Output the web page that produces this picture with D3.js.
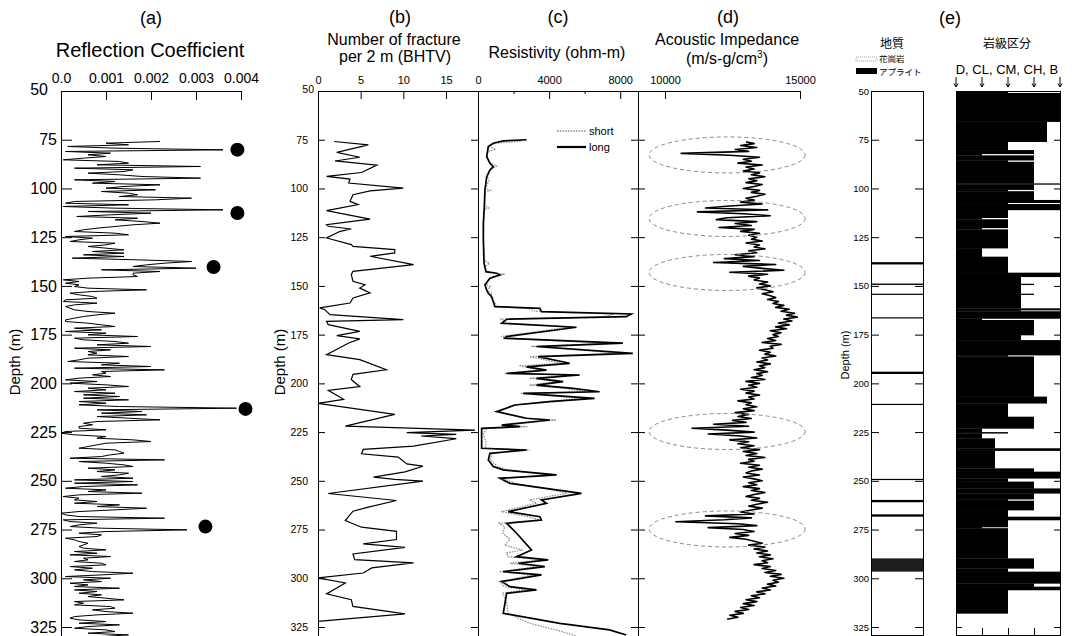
<!DOCTYPE html>
<html><head><meta charset="utf-8">
<script src="https://cdn.jsdelivr.net/npm/d3@7"></script>
<style>
body{margin:0;background:#fff}
svg{display:block}
text{font-family:"Liberation Sans",Arial,sans-serif;fill:#000}
.cjk{font-family:"Noto Sans CJK JP",sans-serif}
</style>
</head><body><svg id="c" width="1073" height="636"></svg>
<script>
// ---------------- DATA ----------------
const depthTicks = [50,75,100,125,150,175,200,225,250,275,300,325];

// (a) reflection coefficient, in units of 1e-3, sampled evenly from rcTop to rcBottom (m)
const rcTop = 75.9, rcBottom = 329.9;
const rcValues = [
2.2,1.0,1.5,0.15,1.2,3.6,0.1,1.1,0.6,1.0,
0.5,0.05,1.3,1.5,0.8,3.1,0.3,1.6,1.4,0.6,
1.3,1.8,3.1,0.3,1.2,0.7,2.2,1.4,1.0,2.1,
0.9,1.5,1.7,1.3,2.9,2.1,0.3,0.1,1.5,0.05,
1.2,3.6,0.6,2.0,1.1,0.35,1.7,1.2,1.8,2.2,
1.6,1.2,0.8,0.5,0.3,1.2,1.5,0.1,0.7,0.4,
0.2,1.2,1.0,0.6,1.0,1.4,0.7,1.4,0.5,1.4,
0.25,1.7,2.9,2.3,1.9,1.6,3.0,0.9,2.2,1.6,
1.6,1.7,0.6,0.05,0.4,0.1,0.4,0.3,0.6,1.9,
0.7,0.2,0.4,0.7,0.8,0.1,0.05,0.8,0.3,0.1,
0.2,0.3,0.6,1.2,0.8,0.5,0.3,0.1,0.1,0.6,
0.9,1.2,0.3,0.9,0.1,1.0,0.6,1.7,0.3,0.5,
1.2,1.5,0.8,2.0,0.3,1.1,0.6,0.8,0.6,1.5,
0.6,0.4,0.15,1.3,0.9,2.0,
0.3,2.3,0.9,1.0,0.7,1.1,0.4,0.1,0.8,0.2,
1.0,1.5,0.6,1.0,0.3,1.2,0.5,1.3,0.5,1.5,
0.4,1.0,0.4,1.3,3.9,0.8,1.8,0.9,1.9,0.8,
1.5,2.2,0.8,0.5,0.7,0.4,0.4,1.0,0.1,0.0,
0.3,1.0,0.8,1.6,2.0,1.0,0.8,0.6,0.4,1.2,
1.3,1.4,1.1,0.9,0.2,2.3,0.4,1.0,1.4,1.6,
0.6,1.2,0.8,1.5,1.3,0.9,1.6,0.3,1.6,0.3,
1.7,0.5,0.1,1.0,0.6,1.8,0.4,0.05,0.4,0.3,
0.8,0.3,1.3,0.8,1.9,1.2,0.4,0.0,0.1,0.4,
2.3,0.05,0.2,0.8,0.4,0.2,0.9,2.8,1.0,0.4,
0.9,0.8,0.1,0.3,0.4,0.6,0.5,0.4,0.5,1.0,
0.3,0.8,0.2,1.1,0.5,0.6,0.3,0.9,1.0,0.2,
0.7,0.3,0.7,1.6,0.9,0.1,1.1,0.5,0.9,0.2,
0.6,0.3,1.3,0.3,0.8,0.4,0.9,0.6,1.0,1.4,
0.3,0.5,0.3,1.1,1.2,0.7,1.0,1.6,0.8,0.3,
0.2,0.4,1.0,0.4,1.3,0.6,0.3,1.0,1.2,0.6,
1.5,0.9];
const rcTicks = [0,1,2,3,4];
const rcTickLabels = ["0.0","0.001","0.002","0.003","0.004"];
const rcDotDepth = [80.1,112.6,140.3,213.1,273.5];
const rcDotValue = [3.92,3.92,3.39,4.10,3.21];

// (b) number of fractures per 2 m
const fracDepth = [75.9,77.6,81.5,84,85.9,88,91.8,93.8,95.2,97.2,99.8,101.2,103.2,106.6,108.3,111.4,115.7,118.6,119.4,120.8,122,125.4,128.8,129.7,131.4,133.1,134.8,139.1,142.5,144.2,147.6,149.4,151.1,153.6,156.2,158.8,161.3,162.2,164.7,167.3,168.2,169.9,173.3,175.5,177.2,179.3,185.3,187.8,193,195.4,198,201.7,203.6,208.2,210.3,215.9,221.9,224,225.3,226.2,227,228.4,232.2,233.9,236.1,237.8,241.3,242.5,245.4,248.1,249.3,250.2,256.5,260.1,263.5,265.6,270.4,273.8,275.9,280.1,282.4,284.1,287.5,290.4,292.1,294.7,297.3,299.8,302.4,305,308,311,314.4,318.3,322.1];
const fracValue = [1.9,5.9,2.2,4.9,2.0,6.9,5.1,1.0,3.75,3.6,10,6.1,4.1,3.75,4.7,1.0,6.1,1.0,1.2,3.9,2.6,1.0,3.9,4.1,9,9,6.1,11.2,4.1,3.9,4.1,5.5,4.9,6.1,4.1,3.75,0.2,0.8,1.4,10,1.0,1.2,4.9,2.2,4.9,3.6,1.0,4.9,8,4.1,3.9,4.9,1.2,3.0,0,9,3.2,18.4,10.4,16.2,12.1,16.2,11.2,5.3,5.1,9.4,10.4,12.3,10.2,6.5,9,12.3,1.2,9.2,5.9,4.1,3.2,5.1,9.2,9.2,5.3,10.2,4.1,4.3,11.2,6.3,5.3,0,3.2,2.2,1.0,3.9,4.1,10.2,0];
const fracTicks = [0,5,10,15];

// (c) resistivity (ohm-m)
const resLongDepth = [75,75.6,76.8,78.5,83.7,87.1,88.8,90.5,94,100.8,109.4,117.9,126.5,138.4,142.7,143.5,144.4,146.1,149.5,152.1,153.8,155.5,158.1,160.6,161.5,163.2,164.4,165.8,167.1,169.2,171.2,176,176.9,179.4,181.1,184.6,186.3,189.7,191.5,193.2,194.9,195.7,197.4,199.1,200.9,202.6,204.3,205.1,207.7,209.4,211.1,214.5,217.9,218.8,221.4,222.2,223.1,233.3,234.2,235.9,239.3,242.7,244.4,247,248.7,251.3,256.4,259.8,261.5,265.8,268.4,270.1,271.8,273.5,276.9,285.5,288.9,290.6,292.3,294,296.6,298.3,301.7,304.3,306,307.7,318,323.1,326.5,329.1];
const resLongValue = [2730,1420,860,580,490,670,860,670,490,390,355,300,300,340,450,1050,1230,670,390,490,580,770,860,950,3480,3570,8620,8340,1610,1330,5540,1610,1510,8150,3290,8710,3380,5160,2730,3850,1610,5720,3290,4790,3290,5350,6840,2540,6560,4040,2080,1050,2730,4040,1330,2360,205,205,2730,670,580,860,1420,4420,1230,1800,5820,3570,3850,1700,3480,3570,1610,1800,2170,3010,2170,3950,2270,3760,1420,3570,1330,1800,3290,1610,1420,4600,7400,8340];
const resShortDepth = [75.8,76.8,78.5,80,81,84,87,88.5,90.5,94,96,100,101,102,109,110,111,118,126,137,138.5,140,143,144,145,146.5,149,150.5,152,154,155.5,158,160.5,161.5,163,164.5,166,167,169,171,176,177,179.5,181,184.5,186.3,189.7,191,193,195,195.7,197.4,199.1,200.9,202.6,204.3,205.1,207.7,209.4,211.1,214.5,217.9,218.8,221.4,222.2,223.1,226,230,233.3,234.2,235.9,239.3,242.7,244.4,247,248.7,251.3,254,256.4,259.8,261.5,265.8,268.4,270.1,271.8,273.5,276.9,280,283,285.5,287,288.9,290.6,292.3,294,296.6,298.3,301.7,304.3,306,307.7,312,318,321,323.1,326.5,329.5];
const resShortValue = [2400,900,620,1000,560,500,700,1050,700,520,620,420,700,400,380,600,360,320,310,360,650,360,500,1500,900,620,420,700,500,800,700,900,1100,2800,3200,7600,7000,1300,1600,5200,1300,1800,7400,3000,7900,2900,4700,2300,3500,1500,5200,2900,4400,2900,4900,6100,2400,5900,3800,2000,1150,2500,4400,1500,2800,500,300,450,400,2900,800,700,1100,1700,3900,1400,2100,3800,5000,2900,3300,1300,2800,3500,1200,1500,1400,1800,1500,2500,1600,1700,3600,1800,3400,1200,3100,1200,1500,2700,1400,1600,1700,2400,2900,4400,5500];
const resTicks = [0,4000,8000];
const resMinorTicks = [2000,6000];
const resLegend = ["short","long"];

// (d) acoustic impedance, sampled every metre from aiTop to aiBottom
const aiTop = 76, aiBottom = 321;
const aiValues = [
13000,13300,12800,13400,12600,13100,10600,12400,13500,12900,
13200,12700,13600,13000,13300,12900,13500,13200,13700,13100,
13400,13000,13600,13300,12900,13500,13200,13700,13400,13000,
13300,12800,13600,12400,11500,13800,11200,12900,13900,12300,
11900,13400,12600,13200,12000,13300,12800,13500,13100,13400,
13200,13600,13000,13500,13300,13700,13100,13400,12600,13300,
12200,13500,11800,14100,12900,13600,14400,12400,13800,13100,
13500,13300,13800,13500,13900,13400,13700,14000,13600,13900,
14100,13800,14200,14000,14400,14100,14600,14300,14800,14500,
14900,14400,14700,14200,14600,14100,14500,13900,14300,14000,
14200,13800,14100,13600,14300,13900,14000,13500,13900,13700,
14100,13600,13800,13400,13900,13500,13700,13300,13800,13400,
13600,13200,13700,13000,13500,13100,13400,12800,13300,13000,
13500,13100,13300,12700,13200,13000,13400,12900,13300,12600,
13100,12700,13200,12500,13000,11800,13100,11000,12300,13300,
11600,12800,13400,12400,13100,12700,13300,12800,13500,12900,
13400,13000,13700,13100,13300,12800,13500,13100,13600,13200,
13000,13500,12900,13300,13600,13100,13400,12900,13500,13200,
13700,13300,13000,13500,13200,13800,13400,13100,13600,13200,
12800,13300,11500,13200,12200,10400,12700,13400,11600,12900,
13300,12600,13100,12400,13000,13300,13600,13100,13700,13300,
13800,13400,13900,13500,14000,13600,13800,13300,13900,13600,
14100,13700,14300,13900,14400,14000,14200,13800,14100,13600,
13900,13400,13700,13200,13500,13000,13400,12900,13300,12800,
13100,12600,12900,12400,12700,12300];
const aiTicks = [10000,15000];
const aiEllipseDepth = [82.8,115.4,143.1,224.7,274.7];
const aiEllipseCenter = 12300;

// (e) geology and rock class
const geoLegend = ["花崗岩","アプライト"];
const aplTop = [137.8,148.8,154.0,166.1,194.0,210.5,249.0,259.8,267.2,289.8];
const aplBottom = [139.0,149.5,154.6,166.7,195.2,211.0,249.6,261.0,268.4,296.6];
const rockClassLabels = ["D","CL","CM","CH","B"];
const rockTop = [50,51.0,65.7,76.0,80.3,82.2,83.0,85.5,86.3,97.4,97.9,100.6,101.4,105.9,107.3,108.0,111.0,115.0,115.8,120.2,121.0,130.6,135.0,143.2,145.3,148.9,149.4,154.0,154.5,161.5,162.4,163.0,166.7,167.5,175.2,177.8,185.5,186.2,206.8,210.2,217.1,223.1,225.0,225.6,228.2,233.3,234.5,243.6,245.3,248.7,250.4,253.9,256.4,259.4,260.2,265.0,268.4,270.1,273.7,274.3,289.8,294.9,296.6,302.6,304.3,306.0,318.0];
const rockClass = [2,4,3.5,2,3,1,3,2,3,4,3,2,3,4,2,4,2,1,2,1,2,1,2,4,2.5,3,2.5,3,2.5,4,2.5,4,1,3,2.5,4,2,3,3.5,2,3,1,2,1,1.5,4,1.5,3,4,2,3,4,3,2,3,2,4,2,1,2,3,2,4,3,4,2,0];
const rockBottomDepth = 329.3;

// ---------------- DRAW ----------------
const svg = d3.select("#c");
const Y0 = 91, YB = 636, EB = 635;
const y = d3.scaleLinear().domain([50,325]).range([91,627]);
const plain = d3.format("d");

function txt(x, yy, s, size, anchor, cls){
  const t = svg.append("text").attr("x",x).attr("y",yy).attr("font-size",size)
    .attr("text-anchor",anchor||"middle").text(s);
  if(cls) t.attr("class",cls);
  return t;
}
function styleAxis(g, size){
  g.attr("font-family",'"Liberation Sans",Arial,sans-serif').attr("font-size",size);
  g.select(".domain").remove();
  g.selectAll("line").attr("stroke","#000");
  return g;
}
function vline(x, y1, y2){
  svg.append("line").attr("x1",x).attr("x2",x).attr("y1",y1).attr("y2",y2)
    .attr("stroke","#000").attr("stroke-width",1).attr("shape-rendering","crispEdges");
}
function hline(x1, x2, yy){
  svg.append("line").attr("x1",x1).attr("x2",x2).attr("y1",yy).attr("y2",yy)
    .attr("stroke","#000").attr("stroke-width",1).attr("shape-rendering","crispEdges");
}
const noLabel = () => "";

// ---- (a) ----
const xA = d3.scaleLinear().domain([0,4]).range([61,241]);
txt(151,24,"(a)",18);
txt(150,57,"Reflection Coefficient",20);
const gaL = styleAxis(svg.append("g").attr("transform","translate(61,0)")
  .call(d3.axisLeft(y).tickValues(depthTicks).tickSize(-11).tickPadding(4)), 16);
gaL.selectAll(".tick text").filter(d=>d===50).attr("x",-13).attr("dy","0.2em");
styleAxis(svg.append("g").attr("transform",`translate(0,${Y0})`)
  .call(d3.axisTop(xA).tickValues(rcTicks).tickFormat((d,i)=>rcTickLabels[i]).tickSize(-9).tickPadding(8)), 14);
vline(61,Y0,YB); hline(61,241,Y0);
const rcStep = (rcBottom-rcTop)/(rcValues.length-1);
const rcData = rcValues.map((v,i)=>({d: rcTop + i*rcStep, v}));
svg.append("path").datum(rcData).attr("fill","none").attr("stroke","#000").attr("stroke-width",1)
  .attr("d", d3.line().x(p=>xA(p.v)).y(p=>y(p.d)));
svg.selectAll("circle.rc").data(rcDotDepth).enter().append("circle").attr("class","rc")
  .attr("cx",(d,i)=>xA(rcDotValue[i])).attr("cy",d=>y(d)).attr("r",7).attr("fill","#000");
txt(0,0,"Depth (m)",15).attr("transform","translate(20,362) rotate(-90)");

// ---- (b) ----
const xB = d3.scaleLinear().domain([0,18.75]).range([318,478]);
txt(400,23,"(b)",18);
txt(394,45,"Number of fracture",16);
txt(395,62,"per 2 m (BHTV)",16);
const gbL = styleAxis(svg.append("g").attr("transform","translate(318,0)")
  .call(d3.axisLeft(y).tickValues(depthTicks).tickSize(-7).tickPadding(10)), 10.5);
gbL.selectAll(".tick text").filter(d=>d===50).attr("x",-4).attr("dy","0.1em");
styleAxis(svg.append("g").attr("transform","translate(478,0)")
  .call(d3.axisLeft(y).tickValues(depthTicks).tickSize(7).tickFormat(noLabel)), 10);
styleAxis(svg.append("g").attr("transform",`translate(0,${Y0})`)
  .call(d3.axisTop(xB).tickValues(fracTicks).tickFormat(plain).tickSize(-8).tickPadding(7)), 11);
vline(318,Y0,YB); vline(478,Y0,YB);
svg.append("path").datum(fracDepth.map((d,i)=>({d, v: fracValue[i]})))
  .attr("fill","none").attr("stroke","#000").attr("stroke-width",1.2)
  .attr("d", d3.line().x(p=>xB(p.v)).y(p=>y(p.d)));
txt(0,0,"Depth (m)",15).attr("transform","translate(285,362) rotate(-90)");

// ---- (c) ----
const xC = d3.scaleLinear().domain([0,9000]).range([478,638]);
txt(558,23,"(c)",18);
txt(557,58,"Resistivity (ohm-m)",16);
styleAxis(svg.append("g").attr("transform",`translate(0,${Y0})`)
  .call(d3.axisTop(xC).tickValues(resTicks).tickFormat(plain).tickSize(-8).tickPadding(7)), 11);
styleAxis(svg.append("g").attr("transform",`translate(0,${Y0})`)
  .call(d3.axisTop(xC).tickValues(resMinorTicks).tickSize(-3).tickFormat(noLabel)), 11);
styleAxis(svg.append("g").attr("transform","translate(638,0)")
  .call(d3.axisLeft(y).tickValues(depthTicks).tickSize(7).tickFormat(noLabel)), 10);
vline(638,Y0,YB);
svg.append("path").datum(resShortDepth.map((d,i)=>({d, v: resShortValue[i]})))
  .attr("fill","none").attr("stroke","#8a8a8a").attr("stroke-width",1.2).attr("stroke-dasharray","1.5,1.2")
  .attr("d", d3.line().x(p=>xC(p.v)).y(p=>y(p.d)));
svg.append("path").datum(resLongDepth.map((d,i)=>({d, v: resLongValue[i]})))
  .attr("fill","none").attr("stroke","#000").attr("stroke-width",1.7)
  .attr("d", d3.line().x(p=>xC(p.v)).y(p=>y(p.d)));
// legend
svg.append("line").attr("x1",557).attr("x2",586).attr("y1",131).attr("y2",131)
  .attr("stroke","#8a8a8a").attr("stroke-width",1.5).attr("stroke-dasharray","1.5,1.2");
svg.append("line").attr("x1",557).attr("x2",586).attr("y1",147).attr("y2",147)
  .attr("stroke","#000").attr("stroke-width",2.2);
txt(589,135,resLegend[0],11,"start");
txt(589,151,resLegend[1],11,"start");

// ---- (d) ----
const xD = d3.scaleLinear().domain([9000,15000]).range([638,800]);
txt(728,23,"(d)",18);
txt(727,45,"Acoustic Impedance",16);
const unit = txt(727,64,"",16);
unit.append("tspan").text("(m/s-g/cm");
unit.append("tspan").attr("dy",-6).attr("font-size",10).text("3");
unit.append("tspan").attr("dy",6).text(")");
styleAxis(svg.append("g").attr("transform",`translate(0,${Y0})`)
  .call(d3.axisTop(xD).tickValues(aiTicks).tickFormat(plain).tickSize(-8).tickPadding(7)), 11);
styleAxis(svg.append("g").attr("transform","translate(638,0)")
  .call(d3.axisRight(y).tickValues(depthTicks).tickSize(7).tickFormat(noLabel)), 10);
hline(318,800,Y0);
const aiData = aiValues.map((v,i)=>({d: aiTop + i*(aiBottom-aiTop)/(aiValues.length-1), v}));
svg.append("path").datum(aiData).attr("fill","none").attr("stroke","#000").attr("stroke-width",1.6)
  .attr("stroke-linejoin","round")
  .attr("d", d3.line().x(p=>xD(p.v)).y(p=>y(p.d)));
svg.selectAll("ellipse.ai").data(aiEllipseDepth).enter().append("ellipse").attr("class","ai")
  .attr("cx",xD(aiEllipseCenter)).attr("cy",d=>y(d)).attr("rx",78).attr("ry",18)
  .attr("fill","none").attr("stroke","#8a8a8a").attr("stroke-width",1).attr("stroke-dasharray","4,3");

// ---- (e) ----
txt(950,24,"(e)",18);
txt(892,48,"地質",12,"middle","cjk");
txt(1007,48,"岩級区分",12,"middle","cjk");
// geology legend
svg.append("rect").attr("x",856).attr("y",57).attr("width",21).attr("height",4)
  .attr("fill","#fff").attr("stroke","#888").attr("stroke-width",0.8).attr("stroke-dasharray","1,1");
svg.append("rect").attr("x",856).attr("y",68).attr("width",21).attr("height",6).attr("fill","#000");
txt(879,62,geoLegend[0],8.5,"start","cjk");
txt(879,75,geoLegend[1],8.5,"start","cjk");
// geology column
const gx0 = 871, gx1 = 923;
svg.append("rect").attr("x",gx0).attr("y",Y0).attr("width",gx1-gx0).attr("height",EB-Y0)
  .attr("fill","#fff");
svg.selectAll("rect.apl").data(aplTop).enter().append("rect").attr("class","apl")
  .attr("x",gx0).attr("width",gx1-gx0)
  .attr("y",d=>y(d)).attr("height",(d,i)=>Math.max(1.2,y(aplBottom[i])-y(d)))
  .attr("fill",(d,i)=> (aplBottom[i]-d) > 3 ? "#1e1e1e" : "#000");
svg.append("rect").attr("x",gx0).attr("y",Y0).attr("width",gx1-gx0).attr("height",EB-Y0)
  .attr("fill","none").attr("stroke","#000").attr("shape-rendering","crispEdges");
styleAxis(svg.append("g").attr("transform",`translate(${gx0},0)`)
  .call(d3.axisLeft(y).tickValues(depthTicks).tickSize(-8).tickPadding(2)), 9.5);
styleAxis(svg.append("g").attr("transform",`translate(${gx1},0)`)
  .call(d3.axisLeft(y).tickValues(depthTicks).tickSize(8).tickFormat(noLabel)), 9);
txt(0,0,"Depth (m)",11).attr("transform","translate(849,355) rotate(-90)");

// rock class column
const xR = d3.scaleLinear().domain([0,4]).range([956,1060]);
svg.selectAll("rect.rock").data(rockTop).enter().append("rect").attr("class","rock")
  .attr("x",xR(0)).attr("y",d=>y(d))
  .attr("width",(d,i)=>xR(rockClass[i])-xR(0))
  .attr("height",(d,i)=>y(i+1<rockTop.length ? rockTop[i+1] : rockBottomDepth)-y(d)+0.3)
  .attr("fill","#000");
svg.append("rect").attr("x",xR(0)).attr("y",Y0).attr("width",xR(4)-xR(0)).attr("height",EB-Y0)
  .attr("fill","none").attr("stroke","#000").attr("shape-rendering","crispEdges");
styleAxis(svg.append("g").attr("transform",`translate(${xR(0)},0)`)
  .call(d3.axisLeft(y).tickValues(depthTicks).tickSize(-6).tickFormat(noLabel)), 9);
styleAxis(svg.append("g").attr("transform",`translate(${xR(4)},0)`)
  .call(d3.axisLeft(y).tickValues(depthTicks).tickSize(6).tickFormat(noLabel)), 9);
styleAxis(svg.append("g").attr("transform",`translate(0,${EB})`)
  .call(d3.axisBottom(xR).tickValues([1,2,3]).tickSize(-7).tickFormat(noLabel)), 9);
txt(1007,74,rockClassLabels.join(", "),13);
svg.selectAll("path.arrow").data(rockClassLabels).enter().append("path").attr("class","arrow")
  .attr("d",(d,i)=>{const x=xR(i); return `M${x},77V87M${x-2},83.5L${x},87L${x+2},83.5`;})
  .attr("fill","none").attr("stroke","#000").attr("stroke-width",1);
</script></body></html>
